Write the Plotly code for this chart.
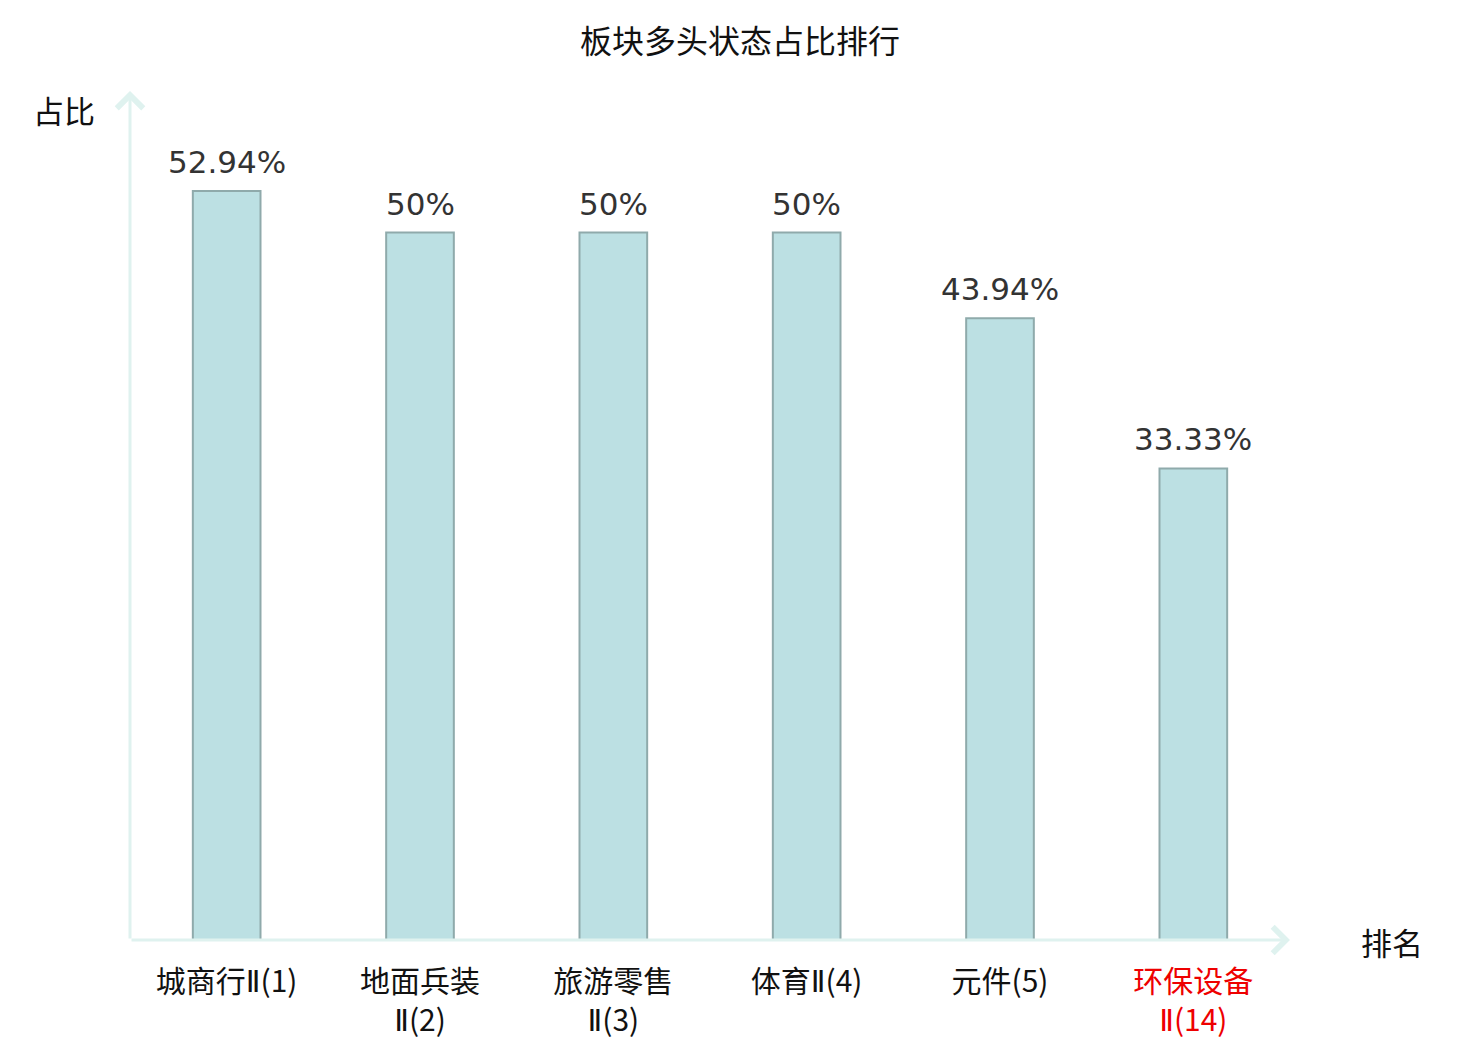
import plotly.graph_objects as go

# 板块多头状态占比
categories = ["城商行Ⅱ(1)", "地面兵装<br>Ⅱ(2)", "旅游零售<br>Ⅱ(3)",
              "体育Ⅱ(4)", "元件(5)", "环保设备<br>Ⅱ(14)"]
ratios = [52.94, 50, 50, 50, 43.94, 33.33]
highlight = [False, False, False, False, False, True]

bar_fill = '#bce0e3'
bar_line = '#8faaab'
axis_color = '#dff2ef'
cjk_font = 'Noto Sans CJK SC'

# the html page has an 8px body margin, so the figure is a little smaller
W, H = 1472, 1032

tick_text = []
for name, hot in zip(categories, highlight):
    # narrow roman numeral like the original
    name = name.replace('Ⅱ', "<span style=\"font-family:'DejaVu Sans'\">Ⅱ</span>")
    if hot:
        name = '<br>'.join(f'<span style="color:#ee0000">{p}</span>' for p in name.split('<br>'))
    tick_text.append(name)

fig = go.Figure()
fig.add_trace(go.Bar(
    x=list(range(len(categories))),
    y=ratios,
    width=0.35,
    marker=dict(color=bar_fill, line=dict(color=bar_line, width=2)),
    hoverinfo='skip',
))

# value labels above the bars
for i, v in enumerate(ratios):
    fig.add_annotation(x=i, y=v, text=f"{v:g}%", showarrow=False,
                       yanchor='bottom', yshift=9,
                       font=dict(family='DejaVu Sans', size=31, color='#333333'))

# axis arrows
fig.add_annotation(x=len(categories) - 0.5, y=0, ax=-0.5, ay=0, axref='x', ayref='y',
                   xref='x', yref='y', text='', showarrow=True,
                   arrowhead=4, arrowsize=1.7, arrowwidth=3, arrowcolor=axis_color)
fig.add_annotation(x=-0.5, y=60, ax=-0.5, ay=0, axref='x', ayref='y',
                   xref='x', yref='y', text='', showarrow=True,
                   arrowhead=4, arrowsize=1.7, arrowwidth=3, arrowcolor=axis_color)

# axis names
fig.add_annotation(x=-0.057, y=0.978, xref='paper', yref='paper', text='占比',
                   xanchor='center', yanchor='middle', showarrow=False,
                   font=dict(family=cjk_font, size=31, color='#111111'))
fig.add_annotation(x=1.088, y=-0.002, xref='paper', yref='paper', text='排名',
                   xanchor='center', yanchor='middle', showarrow=False,
                   font=dict(family=cjk_font, size=31, color='#111111'))

fig.update_layout(
    width=W, height=H,
    margin=dict(l=122, r=190, t=83, b=100),
    plot_bgcolor='white', paper_bgcolor='white',
    showlegend=False,
    title=dict(text='板块多头状态占比排行', x=732 / W, xanchor='center',
               y=1 - 34 / H, yanchor='middle', yref='container',
               font=dict(family=cjk_font, size=32, color='#111111')),
    xaxis=dict(range=[-0.5, len(categories) - 0.5], tickvals=list(range(len(categories))),
               ticktext=tick_text, showgrid=False, zeroline=False, showline=False,
               ticks='outside', ticklen=15, tickcolor='rgba(0,0,0,0)', automargin=False,
               tickfont=dict(family=cjk_font, size=30, color='#111111')),
    yaxis=dict(range=[0, 60], showgrid=False, zeroline=False, showline=False,
               showticklabels=False, automargin=False),
)

fig.write_html("out.html")
